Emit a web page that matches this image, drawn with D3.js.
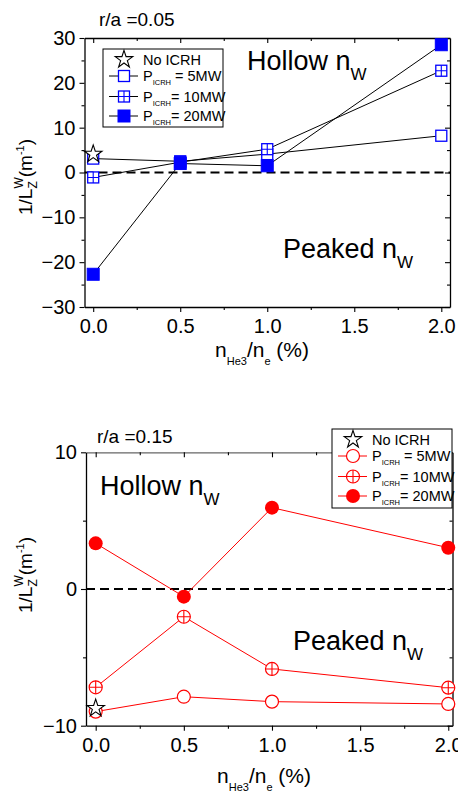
<!DOCTYPE html>
<html lang="en">
<head>
<meta charset="UTF-8">
<title>1/L_Z^W vs nHe3/ne</title>
<script src="https://d3js.org/d3.v7.min.js"></script>
<style>
  body { margin: 0; background: #fff; }
  svg { display: block; font-family: "Liberation Sans", Arial, Helvetica, sans-serif; }
</style>
</head>
<body>
<div id="chart"></div>
<script>
// He3 concentration nHe3/ne (%)
const conc = [0.0, 0.5, 1.0, 2.0];
const xTickValues = [0, 0.5, 1.0, 1.5, 2.0];
const xMinorTicks = [0.25, 0.75, 1.25, 1.75];

// r/a = 0.05
const top5MW = [3.1, 2.5, 4.1, 8.2];
const top10MW = [-1.1, 2.3, 5.2, 22.7];
const top20MW = [-22.7, 2.0, 1.5, 28.5];
const topNoICRH = [4.1];
const topYTicks = [-30, -20, -10, 0, 10, 20, 30];
const topYMinor = [-25, -15, -5, 5, 15, 25];

// r/a = 0.15
const bot5MW = [-8.97, -7.88, -8.24, -8.41];
const bot10MW = [-7.19, -2.03, -5.85, -7.22];
const bot20MW = [3.34, -0.56, 5.95, 3.02];
const botNoICRH = [-8.73];
const botYTicks = [-10, 0, 10];
const botYMinor = [-5, 5];

const W = 458, H = 793;
const svg = d3.select("#chart").append("svg").attr("width", W).attr("height", H);

// text with sub/superscripts: parts = [text, size, baselineShift, dx]
function richText(parent, x, y, parts, anchor) {
  const t = parent.append("text").attr("x", x).attr("y", y)
    .attr("font-size", parts[0][1])
    .attr("text-anchor", anchor || "start").attr("fill", "#000");
  let prev = 0;
  parts.forEach(p => {
    const ts = t.append("tspan").attr("font-size", p[1]).attr("dy", p[2] - prev).text(p[0]);
    if (p[3]) ts.attr("dx", p[3]);
    prev = p[2];
  });
  return t;
}

const markers = {
  squareOpen: (s, c) => s.append("rect").attr("x", -5.5).attr("y", -5.5).attr("width", 11).attr("height", 11)
    .attr("fill", "#fff").attr("stroke", c).attr("stroke-width", 1.3),
  squarePlus: (s, c) => {
    markers.squareOpen(s, c);
    s.append("path").attr("d", "M-5.5,0H5.5M0,-5.5V5.5").attr("stroke", c).attr("stroke-width", 1.1);
  },
  squareFill: (s, c) => s.append("rect").attr("x", -6).attr("y", -6).attr("width", 12).attr("height", 12)
    .attr("fill", c).attr("stroke", c),
  circleOpen: (s, c) => s.append("circle").attr("r", 6.5).attr("fill", "#fff").attr("stroke", c).attr("stroke-width", 1.2),
  circlePlus: (s, c) => {
    markers.circleOpen(s, c);
    s.append("path").attr("d", "M-6.5,0H6.5M0,-6.5V6.5").attr("stroke", c).attr("stroke-width", 1.1);
  },
  circleFill: (s, c) => s.append("circle").attr("r", 7).attr("fill", c),
  star: (s) => s.append("path").attr("d", d3.symbol(d3.symbolStar, 95)())
    .attr("fill", "#fff").attr("stroke", "#000").attr("stroke-width", 1.1)
};

const panels = [
  {
    title: "r/a =0.05", titleX: 99, titleY: 26,
    left: 84.5, right: 450, top: 38, bottom: 307,
    xDomain: [-0.05, 2.05], yDomain: [-30, 30], yTicks: topYTicks, yMinor: topYMinor,
    topColor: "#000", lineColor: "#000", color: "#0000ff",
    series: [[top5MW, "squareOpen"], [top10MW, "squarePlus"], [top20MW, "squareFill"]],
    noICRH: topNoICRH,
    legend: { x: 103, y: 49, w: 120, h: 78 },
    hollow: [247, 70], peaked: [283, 258],
    yLabelY: 177, xLabel: [215, 357]
  },
  {
    title: "r/a =0.15", titleX: 97, titleY: 443,
    left: 86, right: 452.5, top: 452.3, bottom: 725.7,
    xDomain: [-0.055, 2.024], yDomain: [-10, 10], yTicks: botYTicks, yMinor: botYMinor,
    topColor: "#666", lineColor: "#ff0000", color: "#ff0000",
    series: [[bot5MW, "circleOpen"], [bot10MW, "circlePlus"], [bot20MW, "circleFill"]],
    noICRH: botNoICRH,
    legend: { x: 332, y: 429, w: 120, h: 79 },
    hollow: [100, 495], peaked: [293, 650],
    yLabelY: 575, xLabel: [217, 783]
  }
];

function styleAxis(sel, color) {
  sel.attr("font-size", 20).attr("font-family", null);
  sel.select(".domain").attr("stroke", color || "#000").attr("stroke-width", 1.3);
  sel.selectAll(".tick line").attr("stroke", "#000").attr("stroke-width", 1.1);
  sel.selectAll(".tick text").attr("fill", "#000");
}

function noDomain(sel) { sel.select(".domain").remove(); sel.selectAll(".tick line").attr("stroke-width", 1.1); }

panels.forEach(p => {
  const x = d3.scaleLinear().domain(p.xDomain).range([p.left, p.right]);
  const y = d3.scaleLinear().domain(p.yDomain).range([p.bottom, p.top]);
  const g = svg.append("g");

  // bottom axis (outward ticks)
  g.append("g").attr("transform", `translate(0,${p.bottom})`)
    .call(d3.axisBottom(x).tickValues(xTickValues).tickFormat(d3.format(".1f"))
      .tickSize(5).tickSizeOuter(0).tickPadding(7))
    .call(styleAxis);
  g.append("g").attr("transform", `translate(0,${p.bottom})`)
    .call(d3.axisBottom(x).tickValues(xMinorTicks).tickFormat("").tickSize(3))
    .call(noDomain);

  // top axis (inward ticks)
  g.append("g").attr("transform", `translate(0,${p.top})`)
    .call(d3.axisBottom(x).tickValues(xTickValues).tickFormat("").tickSize(5).tickSizeOuter(0))
    .call(s => styleAxis(s, p.topColor));
  g.append("g").attr("transform", `translate(0,${p.top})`)
    .call(d3.axisBottom(x).tickValues(xMinorTicks).tickFormat("").tickSize(3))
    .call(noDomain);

  // left axis (outward ticks)
  g.append("g").attr("transform", `translate(${p.left},0)`)
    .call(d3.axisLeft(y).tickValues(p.yTicks).tickSize(5).tickSizeOuter(0).tickPadding(4))
    .call(styleAxis);
  g.append("g").attr("transform", `translate(${p.left},0)`)
    .call(d3.axisLeft(y).tickValues(p.yMinor).tickFormat("").tickSize(3))
    .call(noDomain);

  // right axis (inward ticks)
  g.append("g").attr("transform", `translate(${p.right},0)`)
    .call(d3.axisLeft(y).tickValues(p.yTicks).tickFormat("").tickSize(5).tickSizeOuter(0))
    .call(styleAxis);
  g.append("g").attr("transform", `translate(${p.right},0)`)
    .call(d3.axisLeft(y).tickValues(p.yMinor).tickFormat("").tickSize(3))
    .call(noDomain);

  // zero line
  g.append("line").attr("x1", p.left).attr("x2", p.right).attr("y1", y(0)).attr("y2", y(0))
    .attr("stroke", "#000").attr("stroke-width", 2).attr("stroke-dasharray", "9,5");

  // series
  const line = d3.line().x(d => x(d[0])).y(d => y(d[1]));
  p.series.forEach(([vals, m]) => {
    const pts = conc.map((c, i) => [c, vals[i]]);
    g.append("path").datum(pts).attr("d", line).attr("fill", "none")
      .attr("stroke", p.lineColor).attr("stroke-width", 1);
  });
  p.series.forEach(([vals, m]) => {
    const pts = conc.map((c, i) => [c, vals[i]]);
    g.selectAll(null).data(pts).join("g")
      .attr("transform", d => `translate(${x(d[0])},${y(d[1])})`)
      .each(function () { markers[m](d3.select(this), p.color); });
  });
  g.selectAll(null).data(p.noICRH).join("g")
    .attr("transform", d => `translate(${x(0)},${y(d)})`)
    .each(function () { markers.star(d3.select(this)); });

  // titles and annotations
  g.append("text").attr("x", p.titleX).attr("y", p.titleY)
    .attr("font-size", 19).attr("fill", "#000").text(p.title);
  richText(g, p.hollow[0], p.hollow[1], [["Hollow n", 27, 0], ["W", 17, 10]]);
  richText(g, p.peaked[0], p.peaked[1], [["Peaked n", 27, 0], ["W", 17, 10]]);

  // axis labels
  richText(g, p.xLabel[0], p.xLabel[1],
    [["n", 21, 0], ["He3", 11, 8], ["/n", 21, 0], ["e", 11, 8], [" (%)", 21, 0]]);
  richText(g, 0, 0,
    [["1/L", 19, 0], ["Z", 12, 5], ["W", 12, -9, -7.3], ["(m", 19, 0], ["-1", 11, -8], [")", 19, 0]], "middle")
    .attr("transform", `translate(32,${p.yLabelY}) rotate(-90)`);

  // legend
  const L = p.legend;
  const lg = g.append("g").attr("transform", `translate(${L.x},${L.y})`);
  lg.append("rect").attr("width", L.w).attr("height", L.h).attr("fill", "#fff")
    .attr("stroke", "#000").attr("stroke-width", 1);
  const rows = [10.5, 27, 47.5, 67];
  const star = lg.append("g").attr("transform", `translate(21,${rows[0]})`);
  markers.star(star);
  richText(lg, 40, rows[0] + 5, [["No ICRH", 14.5, 0]]);
  const tails = [" = 5MW", "= 10MW", "= 20MW"];
  p.series.forEach(([vals, m], i) => {
    const ry = rows[i + 1];
    lg.append("line").attr("x1", 6).attr("x2", 35).attr("y1", ry).attr("y2", ry)
      .attr("stroke", p.lineColor).attr("stroke-width", 1);
    markers[m](lg.append("g").attr("transform", `translate(21,${ry})`), p.color);
    richText(lg, 40, ry + 5, [["P", 14.5, 0], ["ICRH", 7.5, 4], [tails[i], 14.5, 0]]);
  });
});
</script>
</body>
</html>
